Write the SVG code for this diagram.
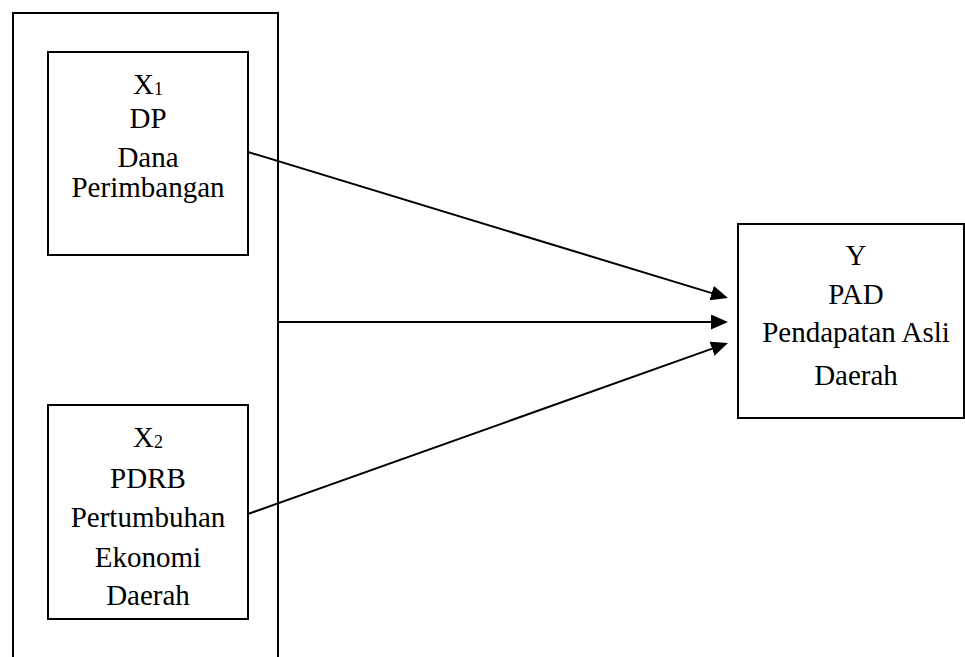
<svg xmlns="http://www.w3.org/2000/svg" width="965" height="657" viewBox="0 0 965 657">
<style>
.box{fill:none;stroke:#000;stroke-width:2}
.t{font-family:"Liberation Serif","Times New Roman",serif;font-size:29px;fill:#000;text-anchor:middle}
.sub{font-size:18px}
.con{stroke:#000;stroke-width:2;fill:none;marker-end:url(#ah)}
</style>
<defs>
<marker id="ah" markerUnits="userSpaceOnUse" markerWidth="18" markerHeight="16" refX="7" refY="7.5" orient="auto">
<path d="M0,0 L17,7.5 L0,15 Z" fill="#000"/>
</marker>
</defs>
<rect width="965" height="657" fill="#fff"/>
<g id="group">
<path class="box" d="M13,658 L13,13 L278,13 L278,658"/>
</g>
<g id="x1">
<rect class="box" x="48" y="52" width="200" height="203"/>
<text class="t" x="148" y="94">X<tspan class="sub" dy="1">1</tspan></text>
<text class="t" x="148" y="128">DP</text>
<text class="t" x="148" y="167">Dana</text>
<text class="t" x="148" y="197">Perimbangan</text>
</g>
<g id="x2">
<rect class="box" x="48" y="405" width="200" height="214"/>
<text class="t" x="148" y="447">X<tspan class="sub" dy="1">2</tspan></text>
<text class="t" x="148" y="488">PDRB</text>
<text class="t" x="148" y="527">Pertumbuhan</text>
<text class="t" x="148" y="567">Ekonomi</text>
<text class="t" x="148" y="605">Daerah</text>
</g>
<g id="y">
<rect class="box" x="738" y="224" width="226" height="194"/>
<text class="t" x="856" y="265">Y</text>
<text class="t" x="856" y="304">PAD</text>
<text class="t" x="856" y="342">Pendapatan Asli</text>
<text class="t" x="856" y="385">Daerah</text>
</g>
<g id="connectors">
<line class="con" x1="248" y1="152" x2="718.4" y2="295.1"/>
<line class="con" x1="278" y1="322" x2="718" y2="322"/>
<line class="con" x1="248" y1="514" x2="718.6" y2="346.4"/>
</g>
</svg>
